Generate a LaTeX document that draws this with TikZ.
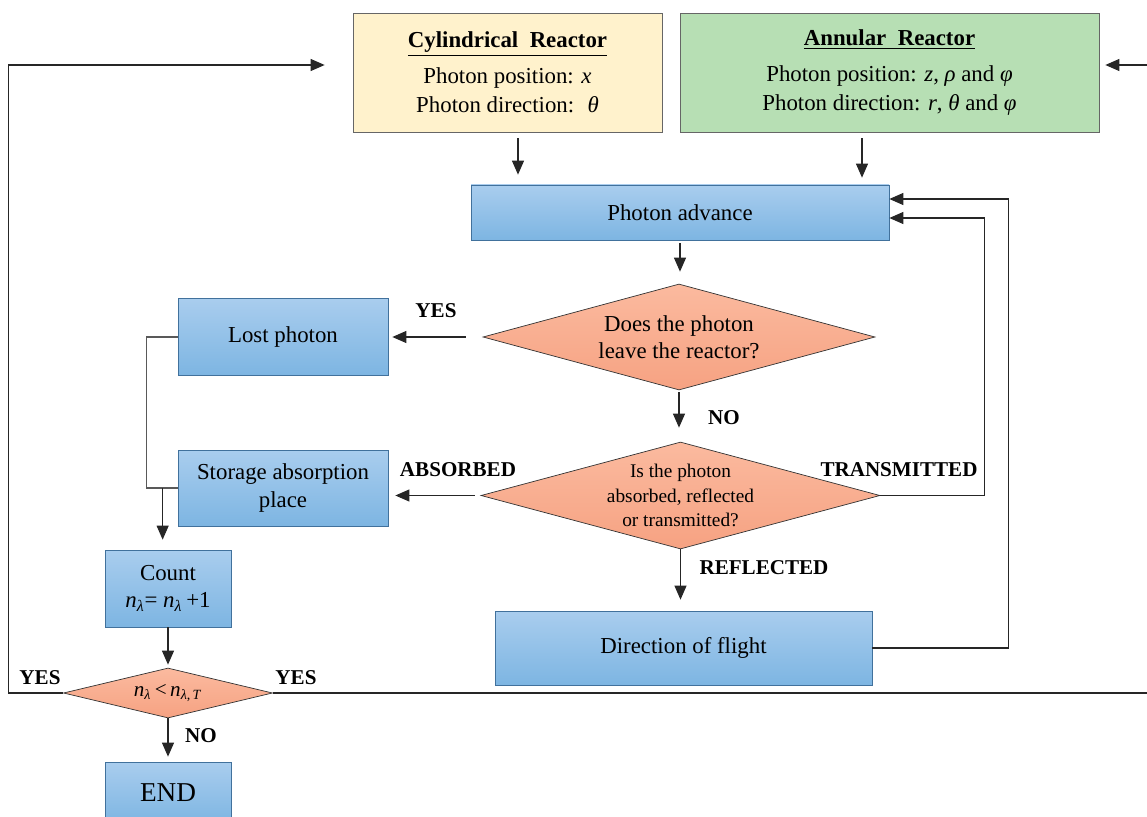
\documentclass[tikz,border=0pt]{standalone}
\usepackage{fontspec}
\setmainfont{Liberation Serif}
\usepackage{xcolor}
\usepackage{tikz}
\definecolor{creamy}{HTML}{FFF2CC}
\definecolor{leafgreen}{HTML}{B7DFB4}
\definecolor{skytop}{HTML}{A9CDEE}
\definecolor{skybottom}{HTML}{7DB5E2}
\definecolor{skyborder}{HTML}{41719C}
\definecolor{salmontop}{HTML}{FBBA9F}
\definecolor{salmonbottom}{HTML}{F6A282}
\usetikzlibrary{shadings, shapes.geometric, arrows.meta}

\newcommand{\nlam}{\textit{n}\textsubscript{\textit{λ}}}

\tikzset{
	reactor/.style = {draw=black!60, rectangle, align=center, inner sep=2pt, minimum height=2.38cm, font=\fontsize{13}{16.5}\selectfont},
	bluebox/.style = {draw=skyborder, rectangle, align=center, inner sep=2pt, top color=skytop, bottom color=skybottom, font=\fontsize{13}{15.5}\selectfont},
	decision/.style = {draw=black!80, diamond, aspect=3.7, align=center, inner sep=0pt, top color=salmontop, bottom color=salmonbottom},
	answer/.style = {font=\fontsize{12}{14}\selectfont\bfseries},
	arr/.style = {-{Triangle[length=0.28cm, width=0.24cm]}, draw=black!85, line width=0.6pt},
	plain/.style = {draw=black!65, line width=0.6pt}
}

\begin{document}
\begin{tikzpicture}
	\useasboundingbox (0,0) rectangle (22.94,-16.34);
	
	\node[bluebox, minimum width=8.36cm, minimum height=1.1cm] (advance) at (13.6,-4.25) {Photon advance};
	
	\node[reactor, above of=advance, xshift=-3.45cm, yshift=1.8cm, minimum width=6.18cm, fill=creamy] (cyl){{\bfseries\underline{Cylindrical\ \ Reactor}}\\[4pt]Photon position: \textit{x}\\Photon direction: \ \textit{θ}};
	
	\node[reactor, above of=advance, xshift=4.19cm, yshift=1.8cm, minimum width=8.38cm, fill=leafgreen] (ann){{\bfseries\underline{Annular\ \ Reactor}}\\[4pt]Photon position: \textit{z}, \textit{ρ} and \textit{φ}\\Photon direction: \textit{r}, \textit{θ} and \textit{φ}};
	
	\node[decision, below of=advance, xshift=-0.02cm, yshift=-1.49cm, minimum width=7.84cm, minimum height=2.12cm, font=\fontsize{13}{15.4}\selectfont] (leave){Does the photon\\leave the reactor?};
	
	\node[bluebox, left of=leave, xshift=-6.92cm, minimum width=4.2cm, minimum height=1.54cm] (lost){Lost photon};
	
	\node[decision, below of=leave, xshift=0.03cm, yshift=-2.17cm, minimum width=7.98cm, minimum height=2.14cm, font=\fontsize{11}{13.7}\selectfont] (fate){Is the photon\\absorbed, reflected\\or transmitted?};
	
	\node[bluebox, left of=fate, xshift=-6.95cm, yshift=0.15cm, minimum width=4.2cm, minimum height=1.52cm] (store){Storage absorption\\place};
	
	\node[bluebox, below of=fate, xshift=0.06cm, yshift=-2.05cm, minimum width=7.54cm, minimum height=1.48cm] (flight){Direction of flight};
	
	\node[bluebox, below of=store, xshift=-2.3cm, yshift=-1.01cm, minimum width=2.52cm, minimum height=1.54cm] (count){Count\\\nlam= \nlam\,+1};
	
	\node[decision, below of=count, yshift=-1.09cm, minimum width=4.18cm, minimum height=1.0cm, font=\fontsize{12}{14}\selectfont] (check){\nlam\,<\,\textit{n}\textsubscript{\textit{λ},\,\textit{T}}};
	
	\node[bluebox, below of=check, yshift=-1.0cm, minimum width=2.52cm, minimum height=1.24cm, font=\fontsize{15.5}{18}\selectfont] (finish){END};
	
	\coordinate (rightedge) at (23.4,-1.3);
	
	\draw[arr, shorten <=0.12cm, shorten >=0.2cm] ([xshift=0.21cm]cyl.south) -- ([xshift=0.21cm]cyl.south |- advance.north);
	
	\draw[arr, shorten <=0.12cm, shorten >=0.14cm] ([xshift=-0.55cm]ann.south) -- ([xshift=-0.55cm]ann.south |- advance.north);
	
	\draw[arr, shorten <=0.06cm, shorten >=0.24cm] (advance.south) -- (advance.south |- leave.north);
	
	\draw[arr, shorten <=0.34cm, shorten >=0.08cm] (leave.west) -- (lost.east |- leave.west);
	
	\draw[arr, shorten <=0.04cm, shorten >=0.28cm] (leave.south) -- (leave.south |- fate.north);
	
	\draw[arr, shorten <=0.12cm, shorten >=0.14cm] (fate.west) -- (store.east |- fate.west);
	
	\draw[arr, shorten >=0.22cm] (fate.south) -- (fate.south |- flight.north);
	
	\draw[arr] (fate.east) -- ++(2.08,0) |- ([yshift=-0.11cm]advance.east);
	
	\draw[arr] (flight.east) -- ++(2.72,0) |- ([yshift=0.27cm]advance.east);
	
	\draw[plain] (lost.west) -- ++(-0.62,0) |- (store.west);
	
	\draw[arr, shorten >=0.2cm] ([xshift=-0.3cm]store.west) -- ([xshift=-0.3cm]store.west |- count.north);
	
	\draw[arr, shorten >=0.06cm] (count.south) -- (check.north);
	
	\draw[arr, shorten >=0.1cm] (check.south) -- (finish.north);
	
	\draw[arr, shorten >=0.56cm] (check.west) -- ++(-1.1,0) |- ([yshift=0.15cm]cyl.west);
	
	\draw[arr, shorten >=0.12cm] (check.east) -- (check.east -| rightedge) |- ([yshift=0.15cm]ann.east);
	
	\node[answer] (yesleave) at (8.72,-6.22) {YES};
	\node[answer] (noleave) at (14.48,-8.36) {NO};
	\node[answer] (absorbed) at (9.16,-9.40) {ABSORBED};
	\node[answer] (transmitted) at (17.98,-9.40) {TRANSMITTED};
	\node[answer] (reflected) at (15.28,-11.36) {REFLECTED};
	\node[answer] (yesleft) at (0.80,-13.56) {YES};
	\node[answer] (yesright) at (5.92,-13.56) {YES};
	\node[answer] (nocheck) at (4.02,-14.72) {NO};
\end{tikzpicture}
\end{document}
